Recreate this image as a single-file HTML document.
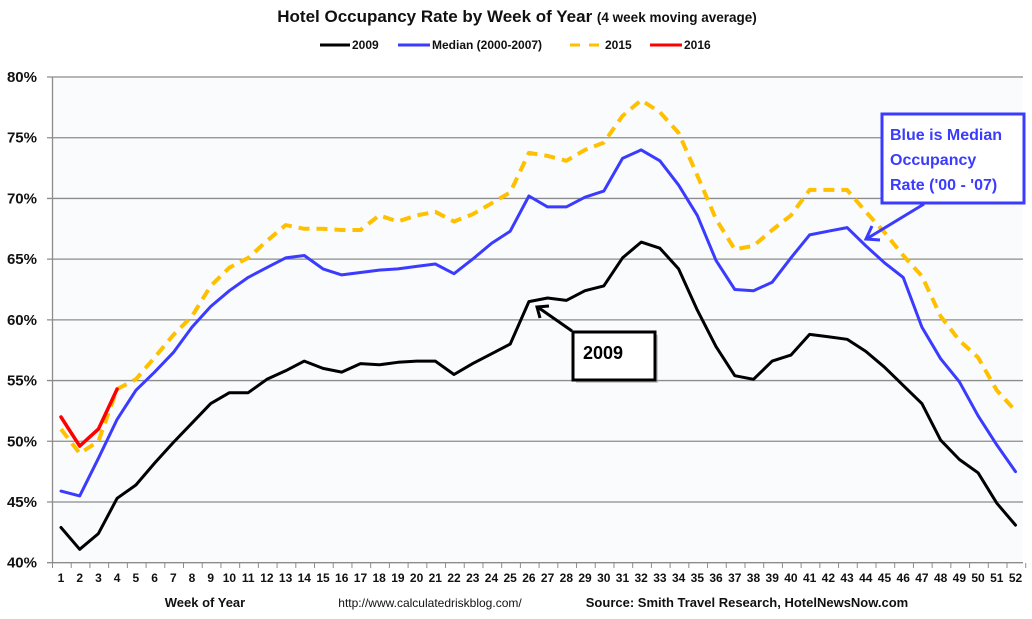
<!DOCTYPE html>
<html><head><meta charset="utf-8"><style>
body{margin:0;background:#fff;}
svg{display:block;font-family:"Liberation Sans",sans-serif;}
</style></head><body>
<svg id="chart" width="1032" height="619" viewBox="0 0 1032 619">
<rect x="52.5" y="77" width="970" height="486" fill="#f9fbfd"/>
<g id="grid"></g><g id="axes"></g><g id="series"></g>
<text x="517" y="22" text-anchor="middle" font-weight="bold" font-size="17" fill="#111">Hotel Occupancy Rate by  Week of Year <tspan font-size="13.5">(4 week moving average)</tspan></text>
<g font-size="12" font-weight="bold" fill="#111">
<g><line x1="320" y1="45" x2="350" y2="45" stroke="#000" stroke-width="3"/><text x="352" y="49">2009</text></g>
<g><line x1="398" y1="45" x2="430" y2="45" stroke="#3b3bff" stroke-width="3"/><text x="432" y="49">Median (2000-2007)</text></g>
<g><line x1="570" y1="45" x2="603" y2="45" stroke="#ffc000" stroke-width="3" stroke-dasharray="10,9"/><text x="605" y="49">2015</text></g>
<g><line x1="650" y1="45" x2="682" y2="45" stroke="#ff0000" stroke-width="3"/><text x="684" y="49">2016</text></g>
</g>
<text x="205" y="607" text-anchor="middle" font-weight="bold" font-size="13" fill="#111">Week of Year</text>
<text x="430" y="607" text-anchor="middle" font-size="12" fill="#111">http://www.calculatedriskblog.com/</text>
<text x="747" y="607" text-anchor="middle" font-weight="bold" font-size="13" fill="#111">Source: Smith Travel Research, HotelNewsNow.com</text>
<g>
<rect x="882" y="114" width="142" height="89" fill="#fff" stroke="#3b3bff" stroke-width="3"/>
<text x="890" y="140" font-size="16" font-weight="bold" fill="#3b3bff">Blue is Median</text>
<text x="890" y="165" font-size="16" font-weight="bold" fill="#3b3bff">Occupancy</text>
<text x="890" y="190" font-size="16" font-weight="bold" fill="#3b3bff">Rate ('00 - '07)</text>
<line x1="924" y1="204" x2="868" y2="238" stroke="#3b3bff" stroke-width="3"/>
<polyline points="872,226 866,239 880,240" fill="none" stroke="#3b3bff" stroke-width="3"/>
</g>
<g>
<rect x="576" y="335" width="82" height="48" fill="#999" opacity="0.5"/>
<rect x="573" y="332" width="82" height="48" fill="#fff" stroke="#000" stroke-width="3"/>
<text x="583" y="359" font-size="18" font-weight="bold" fill="#000">2009</text>
<line x1="572" y1="331" x2="539" y2="308" stroke="#000" stroke-width="3"/>
<polyline points="540,318 537,307 549,306" fill="none" stroke="#000" stroke-width="3"/>
</g>
</svg>
<script>
const weeks = Array.from({length:52},(_,i)=>i+1);
const yTicks = [40,45,50,55,60,65,70,75,80];
const s2009 = [42.9,41.1,42.4,45.3,46.4,48.2,49.9,51.5,53.1,54.0,54.0,55.1,55.8,56.6,56.0,55.7,56.4,56.3,56.5,56.6,56.6,55.5,56.4,57.2,58.0,61.5,61.8,61.6,62.4,62.8,65.1,66.4,65.9,64.2,60.8,57.8,55.4,55.1,56.6,57.1,58.8,58.6,58.4,57.4,56.1,54.6,53.1,50.1,48.5,47.4,44.9,43.1];
const sMedian = [45.9,45.5,48.6,51.8,54.2,55.7,57.3,59.4,61.1,62.4,63.5,64.3,65.1,65.3,64.2,63.7,63.9,64.1,64.2,64.4,64.6,63.8,65.0,66.3,67.3,70.2,69.3,69.3,70.1,70.6,73.3,74.0,73.1,71.1,68.6,64.9,62.5,62.4,63.1,65.1,67.0,67.3,67.6,66.1,64.7,63.5,59.4,56.8,54.9,52.1,49.7,47.5];
const s2015 = [51.0,49.0,50.0,54.3,55.1,56.9,58.75,60.3,62.8,64.3,65.1,66.5,67.8,67.5,67.5,67.4,67.4,68.6,68.1,68.6,68.9,68.1,68.7,69.6,70.5,73.75,73.5,73.1,74.0,74.6,76.8,78.1,77.1,75.4,71.9,68.3,65.8,66.1,67.4,68.6,70.7,70.7,70.7,68.9,67.2,65.3,63.6,60.3,58.3,56.9,54.2,52.5];
const s2016 = [52.0,49.6,51.0,54.3];
const NS='http://www.w3.org/2000/svg';
const X = w => 61 + (w-1)*(1015.5-61)/51;
const Y = v => 562.7 - (v-40)*(562.7-77)/40;
function mk(tag, attrs, parent){const e=document.createElementNS(NS,tag);for(const k in attrs)e.setAttribute(k,attrs[k]);parent.appendChild(e);return e;}
const grid=document.getElementById('grid'), axes=document.getElementById('axes'), ser=document.getElementById('series');
yTicks.forEach(t=>{
  const l=mk('line',{x1:47,x2:1023,y1:Y(t),y2:Y(t),stroke:'#8c8c8c','stroke-width':1.3},grid);
  
  
  const tx=mk('text',{x:37,y:Y(t)+5,'text-anchor':'end','font-size':15,'font-weight':'bold',fill:'#111'},axes);
  tx.textContent=t+'%';
  
  
});
const ya=mk('line',{x1:52.5,x2:52.5,y1:77,y2:563,stroke:'#8c8c8c','stroke-width':1.3},axes);


const step=(1015.5-61)/51;
for(let i=0;i<=52;i++){
  const x=52.5+i*step;
  mk('line',{x1:x,x2:x,y1:563,y2:568,stroke:'#8c8c8c','stroke-width':1},axes);
}
weeks.forEach(w=>{
  const tx=mk('text',{x:X(w),y:582,'text-anchor':'middle','font-size':12,'font-weight':'bold',fill:'#111'},axes);
  tx.textContent=w;
  
  
});
function line(data,color,name,dash,width){
  const pts=data.map((v,i)=>X(weeks[i]).toFixed(1)+','+Y(v).toFixed(1)).join(' ');
  const p=mk('polyline',{points:pts,fill:'none',stroke:color,'stroke-width':width,'stroke-linejoin':'round','stroke-linecap':dash?'butt':'round'},ser);
  if(dash)p.setAttribute('stroke-dasharray',dash);
  
  
}
line(s2015,'#ffc000','series-2015','11,7',4);
line(sMedian,'#3b3bff','series-median',null,3);
line(s2009,'#000','series-2009',null,3);
line(s2016,'#ff0000','series-2016',null,3.5);
</script>
</body></html>
